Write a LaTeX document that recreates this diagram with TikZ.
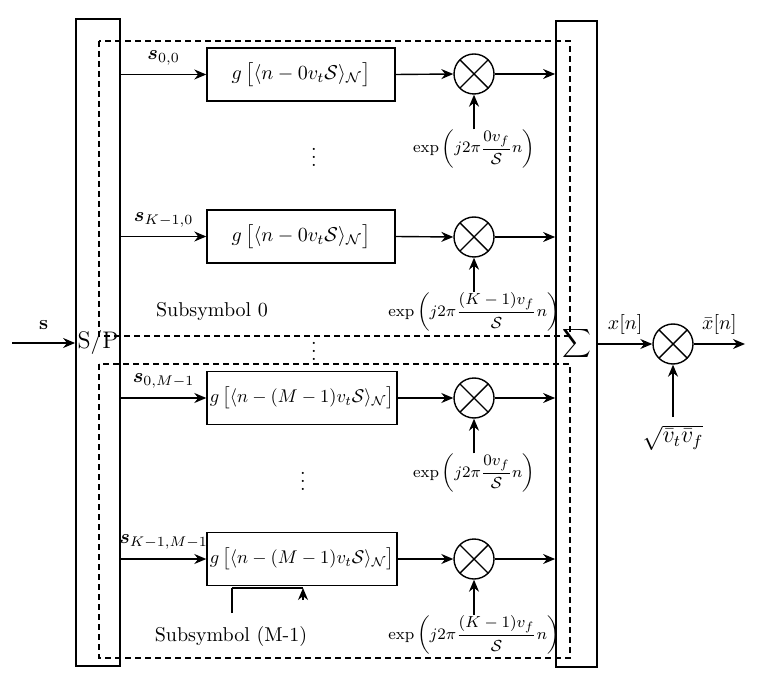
\documentclass[tikz,border=0pt]{standalone}
\usepackage{amsmath,amssymb,bm,graphicx}
\usetikzlibrary{arrows.meta}
\begin{document}
\begin{tikzpicture}[x=0.5pt,y=-0.5pt,
 arr/.style={-{Stealth[length=6pt,width=5pt]}, line width=0.7pt},
 blk/.style={draw, line width=0.7pt, minimum width=94pt, minimum height=26.5pt, inner xsep=0pt},
 mult/.style={draw, circle, minimum size=20pt, inner sep=0pt, line width=0.7pt,
   path picture={\draw[line width=0.7pt] (path picture bounding box.north west) -- (path picture bounding box.south east)
     (path picture bounding box.north east) -- (path picture bounding box.south west);}},
 tall/.style={draw, line width=0.9pt, inner sep=0pt},
 dbox/.style={draw, dash pattern=on 3pt off 2pt, line width=0.6pt},
 lbl/.style={font=\footnotesize, inner sep=0pt},
]
\useasboundingbox (0,0) rectangle (763,683);
% tall boxes
\node[tall, minimum width=22pt, minimum height=323.5pt, font=\large] (sp) at (98,342.5) {S/P};
\node[tall, minimum width=20.5pt, minimum height=323pt] (sig) at (576.5,344) {$\displaystyle\sum$};
% dashed groups
\draw[dbox] (99,41) rectangle (570,336);
\draw[dbox] (99,364) rectangle (570,658);
% filter blocks
\node[blk] (b1) at (301,74.5) {$g\,\big[\langle n-0v_t\mathcal{S}\rangle_{\mathcal{N}}\big]$};
\node[blk] (b2) at (301,236.5) {$g\,\big[\langle n-0v_t\mathcal{S}\rangle_{\mathcal{N}}\big]$};
\node[blk, minimum width=95pt] (b3) at (302,398) {\scalebox{0.92}{$g\,\big[\langle n-(M-1)v_t\mathcal{S}\rangle_{\mathcal{N}}\big]$}};
\node[blk, minimum width=95pt] (b4) at (302,559) {\scalebox{0.92}{$g\,\big[\langle n-(M-1)v_t\mathcal{S}\rangle_{\mathcal{N}}\big]$}};
% multipliers
\node[mult] (m1) at (474,74) {};
\node[mult] (m2) at (474,237) {};
\node[mult] (m3) at (474,398) {};
\node[mult] (m4) at (474,559) {};
% exponent labels
\node[lbl] (e1) at (474,149) {$\exp\left(j2\pi\dfrac{0v_f}{\mathcal{S}}n\right)$};
\node[lbl] (e2) at (474,312) {$\exp\left(j2\pi\dfrac{(K-1)v_f}{\mathcal{S}}n\right)$};
\node[lbl] (e3) at (474,473) {$\exp\left(j2\pi\dfrac{0v_f}{\mathcal{S}}n\right)$};
\node[lbl] (e4) at (474,635) {$\exp\left(j2\pi\dfrac{(K-1)v_f}{\mathcal{S}}n\right)$};
% dots
\node[inner sep=0pt] (d1) at (314,151) {$\vdots$};
\node[inner sep=0pt] (d2) at (314,345) {$\vdots$};
\node[inner sep=0pt] (d3) at (303,475) {$\vdots$};
% texts
\node (t0) at (212,311) {Subsymbol 0};
\node (t1) at (231,636) {Subsymbol (M-1)};
% output part
\node[mult] (mo) at (673,344) {};
\coordinate (in) at (12,343);
\coordinate (out) at (745,344);
\node[inner sep=0pt, font=\large] (sq) at (673,438) {$\sqrt{\bar v_t\bar v_f}$};
% connectors
\draw[arr] (in) -- (in -| sp.west) node[midway, above=3pt] {$\mathbf{s}$};
\draw[arr] (b1.west -| sp.east) -- (b1.west) node[midway, above=1pt] {$\bm{s}_{0,0}$};
\draw[arr] (b2.west -| sp.east) -- (b2.west) node[midway, above=1pt] {$\bm{s}_{K-1,0}$};
\draw[arr] (b3.west -| sp.east) -- (b3.west) node[midway, above=1pt] {$\bm{s}_{0,M-1}$};
\draw[arr] (b4.west -| sp.east) -- (b4.west) node[midway, above=1pt] {$\bm{s}_{K-1,M-1}$};
\foreach \i in {1,2,3,4}{
  \draw[arr] (b\i.east) -- (m\i.west);
  \draw[arr] (m\i.east) -- (m\i.east -| sig.west);
  \draw[arr] (e\i.north) -- (m\i.south);
}
\draw[arr] (mo.west -| sig.east) -- (mo.west) node[midway, above=1pt] {$x[n]$};
\draw[arr] (mo.east) -- (out) node[midway, above=1pt] {$\bar{x}[n]$};
\draw[arr] ([yshift=4pt]sq.north) -- (mo.south);
% small bracket under last block
\coordinate (c1) at (232,613);
\coordinate (c2) at (303,588);
\coordinate (c3) at (303,600);
\draw[line width=0.7pt] (c1) -- (c1 |- c2);
\draw[line width=1.3pt] (c1 |- c2) -- (c2);
\draw[arr] (c3) -- (c2);
\end{tikzpicture}
\end{document}
